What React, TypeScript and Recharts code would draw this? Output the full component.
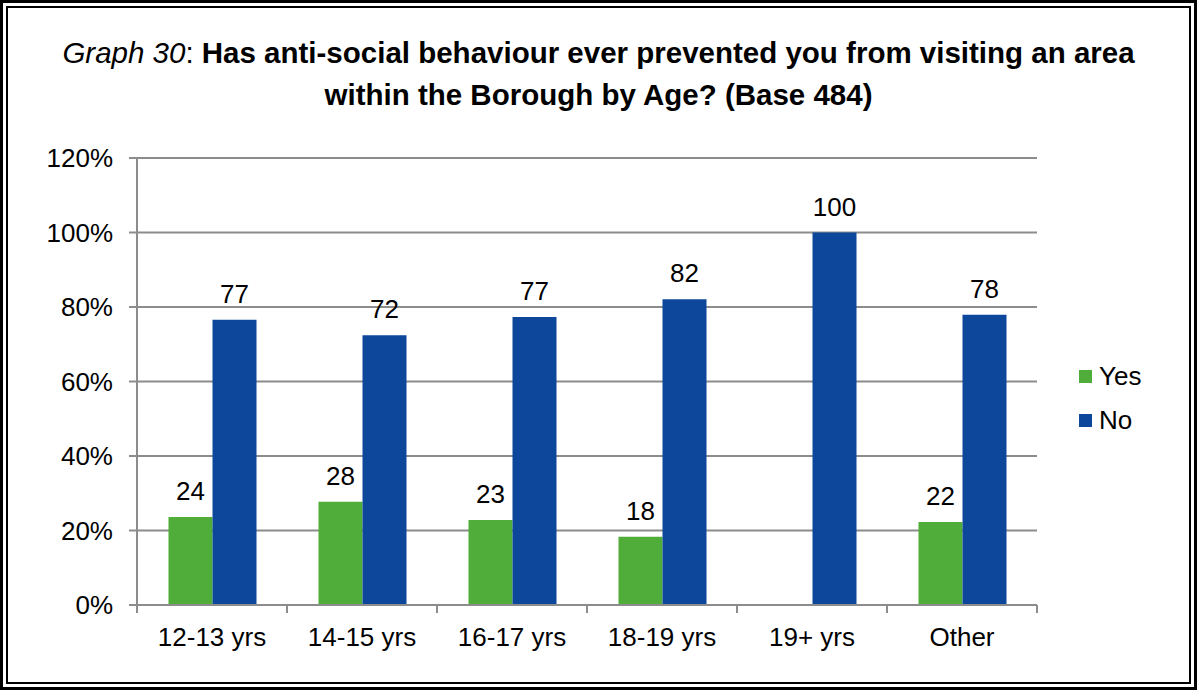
import React from 'react';
import { BarChart, Bar, XAxis, YAxis, CartesianGrid, LabelList, Legend } from 'recharts';

const categories = ['12-13 yrs', '14-15 yrs', '16-17 yrs', '18-19 yrs', '19+ yrs', 'Other'];
const yesValues: (number | null)[] = [23.6, 27.7, 22.8, 18.3, null, 22.3];
const noValues: number[] = [76.6, 72.4, 77.3, 82.1, 100, 77.9];
const yTicks = [0, 20, 40, 60, 80, 100, 120];
const seriesNames = ['Yes', 'No'];
const seriesColors = ['#50AD39', '#0D479C'];

const data = categories.map((c, i) => ({ name: c, yes: yesValues[i], no: noValues[i] }));

const FONT = '"Liberation Sans", Arial, sans-serif';
const W = 1197;
const H = 690;
const X_AXIS_H = 60;
const MARGIN = { top: 158, right: 60, bottom: 85 - X_AXIS_H, left: 0 };
const LEGEND_W = 100;
const PLOT_W = W - 137 - (MARGIN.right + LEGEND_W);
const BAND = PLOT_W / categories.length;

const XTick = (props: any) => {
  const { x, y, payload, index } = props;
  const last = index === categories.length - 1;
  return (
    <g>
      <line x1={x - BAND / 2} x2={x - BAND / 2} y1={y} y2={y + 8} stroke="#8c8c8c" strokeWidth={2} />
      {last && <line x1={x + BAND / 2} x2={x + BAND / 2} y1={y} y2={y + 8} stroke="#8c8c8c" strokeWidth={2} />}
      <text x={x} y={y} dy={41} textAnchor="middle" fill="#000" fontSize={26} fontFamily={FONT}>
        {payload.value}
      </text>
    </g>
  );
};

const LegendContent = () => (
  <div style={{ width: LEGEND_W, fontFamily: FONT, fontSize: 26, color: '#000' }}>
    {seriesNames.map((n, i) => (
      <div key={n} style={{ display: 'flex', alignItems: 'center', height: 44 }}>
        <span style={{ display: 'inline-block', width: 13, height: 13, background: seriesColors[i], marginRight: 7 }} />
        <span>{n}</span>
      </div>
    ))}
  </div>
);

const fmt = (v: any) => (v == null ? '' : String(Math.round(Number(v))));

export default function App() {
  return (
    <div style={{ position: 'absolute', left: 0, top: 0, width: W, height: H, background: '#fff' }}>
      <div style={{ position: 'absolute', left: 0, top: 0, width: W, height: H, boxSizing: 'border-box', border: '3px solid #000' }} />
      <div style={{ position: 'absolute', left: 6, top: 6, width: W - 12, height: H - 12, boxSizing: 'border-box', border: '2px solid #000' }} />
      <div
        style={{
          position: 'absolute',
          left: 0,
          top: 32,
          width: W,
          textAlign: 'center',
          fontFamily: FONT,
          fontSize: 29.5,
          lineHeight: '42px',
          color: '#000',
        }}
      >
        <span style={{ fontStyle: 'italic' }}>Graph 30</span>
        <span>: </span>
        <b>Has anti-social behaviour ever prevented you from visiting an area</b>
        <br />
        <b>within the Borough by Age? (Base 484)</b>
      </div>
      <div style={{ position: 'absolute', left: 0, top: 0 }}>
        <BarChart width={W} height={H} data={data} margin={MARGIN} barCategoryGap="21%" barGap={0}>
          <CartesianGrid vertical={false} stroke="#8c8c8c" strokeWidth={2} />
          <XAxis
            dataKey="name"
            axisLine={{ stroke: '#8c8c8c', strokeWidth: 2 }}
            tickLine={false}
            tickSize={0}
            tickMargin={0}
            tick={<XTick />}
            interval={0}
            height={X_AXIS_H}
          />
          <YAxis
            width={137}
            domain={[0, 120]}
            ticks={yTicks}
            interval={0}
            tickFormatter={(v: number) => `${v}%`}
            axisLine={{ stroke: '#8c8c8c', strokeWidth: 2 }}
            tickLine={{ stroke: '#8c8c8c', strokeWidth: 2 }}
            tickSize={8}
            tickMargin={16}
            tick={{ fill: '#000', fontSize: 26, fontFamily: FONT }}
          />
          <Legend
            layout="vertical"
            align="right"
            verticalAlign="middle"
            content={<LegendContent />}
            wrapperStyle={{ position: 'absolute', left: 1079, top: 354, width: LEGEND_W }}
          />
          <Bar dataKey="yes" name="Yes" fill={seriesColors[0]} isAnimationActive={false}>
            <LabelList dataKey="yes" position="top" offset={17} formatter={fmt} fill="#000" fontSize={26} fontFamily={FONT} />
          </Bar>
          <Bar dataKey="no" name="No" fill={seriesColors[1]} isAnimationActive={false}>
            <LabelList dataKey="no" position="top" offset={17} formatter={fmt} fill="#000" fontSize={26} fontFamily={FONT} />
          </Bar>
        </BarChart>
      </div>
    </div>
  );
}
